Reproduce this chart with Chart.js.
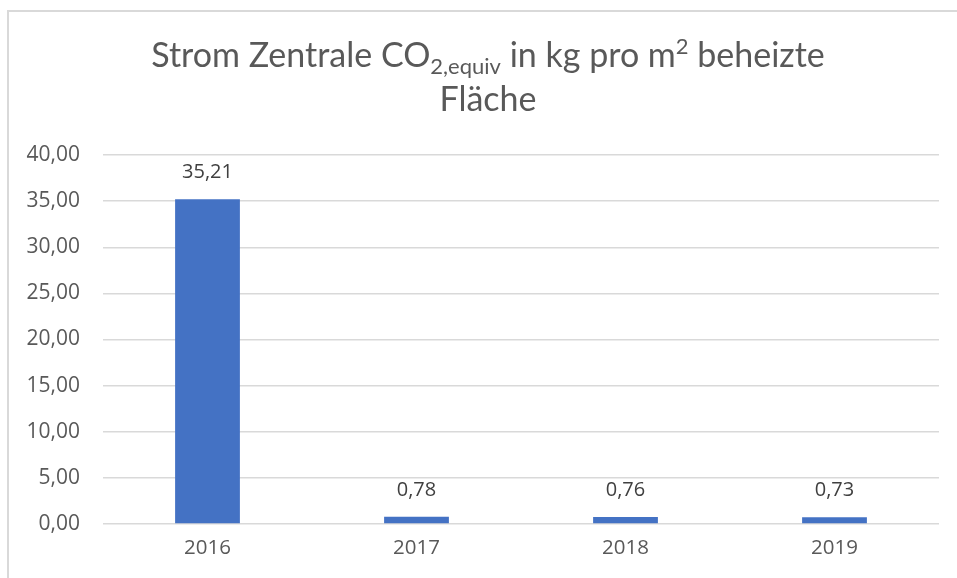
<!DOCTYPE html>
<html>
<head>
<meta charset="utf-8">
<script src="https://cdn.jsdelivr.net/npm/chart.js@4.4.1/dist/chart.umd.min.js"></script>
<style>
  html, body { margin: 0; padding: 0; background: #fff; }
  body { width: 957px; height: 578px; overflow: hidden; position: relative; }
  #frame { position: absolute; left: 7px; top: 10px; width: 960px; height: 580px;
           border-top: 2px solid #d9d9d9; border-left: 2px solid #d9d9d9; box-sizing: border-box; }
  #wrap { position: absolute; left: 0; top: 0; width: 957px; height: 578px; }
</style>
</head>
<body>
<div id="frame"></div>
<div id="wrap"><canvas id="c"></canvas></div>
<script>
const categories = ['2016', '2017', '2018', '2019'];
const values = [35.21, 0.78, 0.76, 0.73];
const yTicks = [0, 5, 10, 15, 20, 25, 30, 35, 40];
const titleParts = [
  { text: 'Strom Zentrale CO', mode: 'n' },
  { text: '2,equiv', mode: 'sub' },
  { text: ' in kg pro m', mode: 'n' },
  { text: '2', mode: 'sup' },
  { text: ' beheizte', mode: 'n' }
];
const titleLine2 = 'Fläche';

const TXT = '#595959';
const fmt = v => v.toFixed(2).replace('.', ',');

const titlePlugin = {
  id: 'richTitle',
  afterDraw(chart) {
    const ctx = chart.ctx;
    const size = 34;
    const fam = 'Lato, "Open Sans", sans-serif';
    const fNorm = `${size}px ${fam}`;
    const fSmall = `${Math.round(size * 0.66)}px ${fam}`;
    ctx.save();
    ctx.fillStyle = TXT;
    ctx.textBaseline = 'alphabetic';
    ctx.textAlign = 'left';
    let total = 0;
    for (const p of titleParts) {
      ctx.font = p.mode === 'n' ? fNorm : fSmall;
      total += ctx.measureText(p.text).width;
    }
    const cx = 488;
    let x = cx - total / 2;
    const base = 67;
    for (const p of titleParts) {
      ctx.font = p.mode === 'n' ? fNorm : fSmall;
      let y = base;
      if (p.mode === 'sub') y = base + 7;
      if (p.mode === 'sup') y = base - 13;
      ctx.fillText(p.text, x, y);
      x += ctx.measureText(p.text).width;
    }
    ctx.font = fNorm;
    ctx.textAlign = 'center';
    ctx.fillText(titleLine2, cx, 111);
    ctx.restore();
  }
};

const labelPlugin = {
  id: 'barLabels',
  afterDatasetsDraw(chart) {
    const ctx = chart.ctx;
    const meta = chart.getDatasetMeta(0);
    ctx.save();
    ctx.font = '20px "Open Sans", sans-serif';
    ctx.fillStyle = '#404040';
    ctx.textAlign = 'center';
    ctx.textBaseline = 'middle';
    meta.data.forEach((bar, i) => {
      ctx.fillText(fmt(values[i]), bar.x, bar.y - 27);
    });
    ctx.restore();
  }
};

new Chart(document.getElementById('c'), {
  type: 'bar',
  data: {
    labels: categories,
    datasets: [{
      data: values,
      backgroundColor: '#4472C4',
      borderWidth: 0,
      categoryPercentage: 1,
      barPercentage: 0.31
    }]
  },
  options: {
    responsive: true,
    maintainAspectRatio: false,
    animation: false,
    layout: { padding: { top: 155, right: 18, left: 0, bottom: 0 } },
    plugins: { legend: { display: false }, title: { display: false }, tooltip: { enabled: false } },
    scales: {
      x: {
        grid: { display: false, drawTicks: false },
        border: { display: false },
        ticks: { color: TXT, font: { family: '"Open Sans", sans-serif', size: 20.5 }, padding: 12 },
        afterFit(s) { s.height = 54; }
      },
      y: {
        min: 0, max: 40,
        afterBuildTicks(s) { s.ticks = yTicks.map(v => ({ value: v })); },
        grid: { color: '#d9d9d9', lineWidth: 1.5, drawTicks: false },
        border: { display: false },
        ticks: { color: TXT, font: { family: '"Open Sans", sans-serif', size: 21 }, padding: 23,
                 callback: v => fmt(v) },
        afterFit(s) { s.width = 103; }
      }
    }
  },
  plugins: [titlePlugin, labelPlugin]
});
</script>
</body>
</html>
